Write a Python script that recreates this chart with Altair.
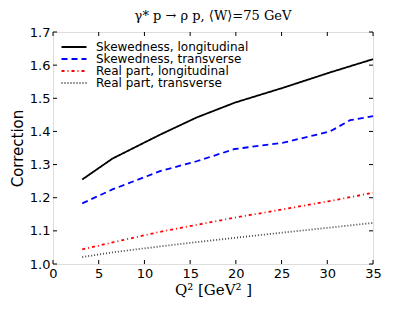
import altair as alt
import pandas as pd

# Q^2 sample points (GeV^2) and corrections
q2_skew_l = [3.2, 6.5, 11.7, 15.7, 19.9, 25.2, 30.3, 35.0]
skew_long = [1.255, 1.318, 1.390, 1.442, 1.487, 1.532, 1.578, 1.618]

q2_skew_t = [3.2, 6.5, 11.7, 15.7, 19.9, 25.2, 30.3, 32.5, 35.0]
skew_trans = [1.183, 1.225, 1.280, 1.310, 1.347, 1.366, 1.400, 1.434, 1.446]

q2_real = [3.2, 6.5, 11.7, 15.7, 19.9, 25.2, 30.3, 35.0]
real_long = [1.044, 1.065, 1.097, 1.118, 1.140, 1.165, 1.190, 1.215]
real_trans = [1.021, 1.035, 1.053, 1.066, 1.079, 1.095, 1.110, 1.124]

series_names = ["Skewedness, longitudinal", "Skewedness, transverse",
                "Real part, longitudinal", "Real part, transverse"]
series_colors = ["#000000", "#0000ff", "#ff0000", "#444444"]
series_dashes = [[1, 0], [6, 4], [3, 3, 1, 3], [1, 2]]

x_ticks = [0, 5, 10, 15, 20, 25, 30, 35]
y_ticks = [1.0, 1.1, 1.2, 1.3, 1.4, 1.5, 1.6, 1.7]

rows = []
for name, xs, ys in [(series_names[0], q2_skew_l, skew_long),
                     (series_names[1], q2_skew_t, skew_trans),
                     (series_names[2], q2_real, real_long),
                     (series_names[3], q2_real, real_trans)]:
    for x, y in zip(xs, ys):
        rows.append({"series": name, "Q2": x, "corr": y})
df = pd.DataFrame(rows)

W, H = 320, 232
xscale = alt.Scale(domain=[0, 35], nice=False, zero=False)
yscale = alt.Scale(domain=[1.0, 1.7], nice=False, zero=False)

x_axis = alt.Axis(values=x_ticks, title="Q²  [GeV² ]", grid=False, tickSize=0,
                  domain=False, labelFontSize=13, labelFont="DejaVu Sans",
                  labelColor="black", labelPadding=3, labelOverlap=False,
                  titleFont="DejaVu Serif", titleFontSize=15,
                  titleFontWeight="normal", titleColor="black", titlePadding=2,
                  labelFlush=False)
y_axis = alt.Axis(values=y_ticks, format=".1f", title="Correction", grid=False,
                  tickSize=0, domain=False, labelFontSize=13,
                  labelFont="DejaVu Sans", labelColor="black", labelPadding=3,
                  labelOverlap=False,
                  titleFont="DejaVu Sans", titleFontSize=15,
                  titleFontWeight="normal", titleColor="black", titlePadding=4,
                  labelFlush=False)

lines = alt.Chart(df).mark_line(strokeWidth=1.8).encode(
    x=alt.X("Q2:Q", scale=xscale, axis=x_axis),
    y=alt.Y("corr:Q", scale=yscale, axis=y_axis),
    color=alt.Color("series:N",
                    scale=alt.Scale(domain=series_names, range=series_colors),
                    legend=alt.Legend(title=None, orient="none", legendX=15, legendY=9,
                                      symbolType="M-2.5,0H2.5", symbolSize=100,
                                      symbolStrokeWidth=2, labelFontSize=12,
                                      labelFont="DejaVu Sans", labelColor="black",
                                      rowPadding=0, labelOffset=16, labelLimit=300)),
    strokeDash=alt.StrokeDash("series:N",
                              scale=alt.Scale(domain=series_names, range=series_dashes),
                              legend=None),
    order=alt.Order("Q2:Q"),
)

tx = pd.DataFrame({"t": x_ticks})
ty = pd.DataFrame({"t": y_ticks})
tk = 4
bottom_ticks = alt.Chart(tx).mark_rule(color="black", strokeWidth=1).encode(
    x=alt.X("t:Q", scale=xscale, axis=x_axis), y=alt.value(H), y2=alt.value(H - tk))
top_ticks = alt.Chart(tx).mark_rule(color="black", strokeWidth=1).encode(
    x=alt.X("t:Q", scale=xscale, axis=x_axis), y=alt.value(0), y2=alt.value(tk))
left_ticks = alt.Chart(ty).mark_rule(color="black", strokeWidth=1).encode(
    y=alt.Y("t:Q", scale=yscale, axis=y_axis), x=alt.value(0), x2=alt.value(tk))
right_ticks = alt.Chart(ty).mark_rule(color="black", strokeWidth=1).encode(
    y=alt.Y("t:Q", scale=yscale, axis=y_axis), x=alt.value(W), x2=alt.value(W - tk))

chart = alt.layer(lines, bottom_ticks, top_ticks, left_ticks, right_ticks).properties(
    width=W, height=H,
    title=alt.Title("γ* p → ρ p, ⟨W⟩=75 GeV", font="DejaVu Serif", fontSize=13,
                    fontWeight="normal", color="black", anchor="middle", offset=3),
    autosize=alt.AutoSizeParams(type="none"),
    padding={"left": 45, "top": 24, "right": 34, "bottom": 40},
).configure_view(stroke="black", strokeWidth=1).configure(background="white")

chart.save("out.html", embed_options={"renderer": "svg", "actions": False})
